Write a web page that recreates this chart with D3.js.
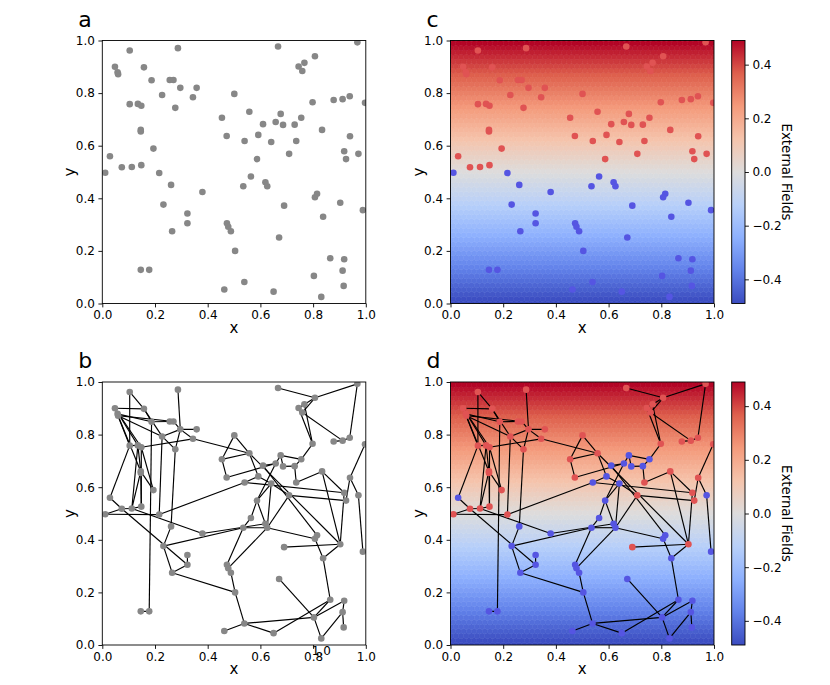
<!DOCTYPE html>
<html><head><meta charset="utf-8">
<script src="https://cdn.jsdelivr.net/npm/d3@7"></script>
<style>body{margin:0;background:#fff} text{font-family:"DejaVu Sans",sans-serif}</style>
</head><body><svg id="fig" width="830" height="685"></svg>
<script>
// ---------------- data ----------------
const nodeX = [0.104,0.287,0.048,0.058,0.060,0.158,0.187,0.256,0.270,0.296,0.358,0.227,0.344,0.501,0.104,0.135,0.148,0.277,0.454,0.472,
0.146,0.146,0.194,0.029,0.074,0.112,0.148,0.011,0.216,0.667,0.968,0.807,0.767,0.745,0.759,0.798,0.878,0.912,0.939,0.997,
0.558,0.677,0.755,0.610,0.658,0.686,0.730,0.834,0.592,0.540,0.641,0.736,0.940,0.918,0.925,0.972,0.709,0.587,0.564,0.261,
0.380,0.232,0.323,0.323,0.265,0.473,0.478,0.488,0.504,0.146,0.178,0.463,0.535,0.619,0.626,0.690,0.815,0.807,0.903,0.989,
0.838,0.671,0.865,0.918,0.912,0.803,0.916,0.831,0.539,0.650];
const nodeY = [0.962,0.971,0.900,0.879,0.872,0.898,0.849,0.850,0.850,0.820,0.820,0.793,0.784,0.797,0.758,0.759,0.752,0.744,0.706,0.637,
0.660,0.654,0.589,0.560,0.518,0.519,0.526,0.497,0.496,0.977,0.993,0.940,0.915,0.901,0.884,0.765,0.774,0.777,0.788,0.763,
0.729,0.721,0.706,0.682,0.690,0.679,0.680,0.660,0.641,0.618,0.614,0.618,0.636,0.579,0.549,0.569,0.569,0.549,0.483,0.451,
0.424,0.376,0.342,0.305,0.275,0.305,0.292,0.275,0.200,0.128,0.128,0.053,0.446,0.461,0.446,0.372,0.417,0.404,0.383,0.355,
0.330,0.251,0.172,0.168,0.125,0.105,0.067,0.025,0.082,0.045];
// edges, 1-based node numbers
const edgeList = [[1,15],[1,6],[2,10],[3,6],[3,15],[4,7],[5,12],[5,21],[6,7],[6,12],[7,8],[8,9],[9,10],[10,11],[10,13],[12,10],[12,18],
[18,10],[12,29],[18,60],[13,17],[7,71],[15,16],[16,21],[17,23],[21,23],[21,27],[15,24],[24,25],[25,26],[26,27],[28,25],[28,29],
[29,50],[13,41],[14,19],[19,20],[19,41],[14,41],[20,45],[3,17],[5,9],[16,26],[17,27],[21,26],[3,16],
[30,32],[31,32],[31,39],[32,34],[32,35],[33,36],[34,36],[35,38],[37,38],[38,39],[36,43],[40,53],[53,55],[53,56],[54,79],[48,79],
[48,54],[48,52],[50,54],[57,55],[41,79],[44,77],[44,45],[42,45],[42,46],[42,43],[46,47],[43,47],[47,52],[49,50],[49,51],[58,51],
[58,45],[57,51],[58,59],[58,74],[51,75],[57,75],[41,49],
[59,73],[73,75],[62,73],[61,74],[26,61],[25,64],[60,62],[62,65],[64,65],[63,64],[65,69],[73,66],[75,67],[66,67],[67,68],[68,69],
[69,89],[89,72],[89,86],[90,83],[89,90],[82,86],[86,84],[86,88],[88,85],[84,85],[85,87],[83,86],[81,83],[78,81],[79,81],[76,79],
[75,78],[70,71],[56,80],[77,78]];
// spin state (+1 red / -1 blue) of each node in panel d
const spinD = [1,1,1,1,1,1,1,1,1,1,1,1,1,1,1,1,1,1,1,1,1,1,1,-1,1,1,1,1,1,1,
1,1,1,1,1,1,1,1,1,1,1,-1,-1,-1,-1,-1,-1,1,-1,-1,-1,1,1,1,1,-1,1,-1,-1,-1,
-1,-1,-1,-1,-1,-1,-1,-1,-1,-1,-1,-1,-1,-1,-1,1,-1,-1,1,-1,-1,-1,-1,-1,-1,-1,-1,-1,-1,-1];
// external field: linear in y
const fieldY = [0, 1];
const fieldValue = [-0.5, 0.5];
const axisTicks = [0, 0.2, 0.4, 0.6, 0.8, 1.0];
const cbarTicks = [-0.4, -0.2, 0, 0.2, 0.4];
const cbarRange = [-0.49, 0.49];
const coolwarmStops = ["#3b4cc0","#6282ea","#8db0fe","#b8d0f9","#dddcdc","#f5c4ac","#f49a7b","#de604d","#b40426"];
const strayLabel = {text: "1.0", x: 0.831};

// ---------------- drawing ----------------
const svg = d3.select("#fig");
const W = 263.5, H = 263;
const panels = [
  {id:"a", x0:102.3, y0:40.5, bg:false, edges:false, color:"gray"},
  {id:"b", x0:102.3, y0:382,  bg:false, edges:true,  color:"gray"},
  {id:"c", x0:450.5, y0:40.5, bg:true,  edges:false, color:"field"},
  {id:"d", x0:450.5, y0:382,  bg:true,  edges:true,  color:"spin"}
];
const nodes = nodeX.map((x,i)=>({x, y:nodeY[i], s:spinD[i], i}));
const field = d3.scaleLinear().domain(fieldY).range(fieldValue);
const cmap = d3.scaleLinear()
  .domain(coolwarmStops.map((c,i)=>cbarRange[0] + i*(cbarRange[1]-cbarRange[0])/(coolwarmStops.length-1)))
  .range(coolwarmStops).interpolate(d3.interpolateRgb).clamp(true);
const RED = "#e05353", BLUE = "#5555e2", GRAY = "#878787";
const fmt = d => (d < 0 ? "\u2212" : "") + Math.abs(d).toFixed(1);

panels.forEach(p => {
  const xs = d3.scaleLinear().domain([0,1]).range([0,W]);
  const ys = d3.scaleLinear().domain([0,1]).range([H,0]);
  const g = svg.append("g").attr("transform", `translate(${p.x0},${p.y0})`);
  const clipId = "clip" + p.id;
  g.append("clipPath").attr("id", clipId).append("rect").attr("width", W).attr("height", H);
  const inner = g.append("g").attr("clip-path", `url(#${clipId})`);

  if (p.bg) {
    const nx = 50, sx = W / nx, sy = sx * Math.sqrt(3);
    const hex = [[.5,-1/6],[.5,1/6],[0,1/3],[-.5,1/6],[-.5,-1/6],[0,-1/3]]
      .map(([a,b]) => [a*sx, b*sy]);
    const cells = [];
    const nRows = Math.ceil(H / (sy/2)) + 2;
    for (let j = -1; j <= nRows; j++) {
      const cy = H - j * sy / 2;
      const off = (j % 2 !== 0) ? sx / 2 : 0;
      for (let k = -1; k <= nx + 1; k++) cells.push({cx: k*sx + off, cy});
    }
    inner.selectAll("path.hex").data(cells).join("path")
      .attr("class","hex")
      .attr("d", c => "M" + hex.map(([a,b]) => [c.cx+a, c.cy+b].join(",")).join("L") + "Z")
      .attr("fill", c => cmap(field(ys.invert(c.cy))))
      .attr("stroke", c => cmap(field(ys.invert(c.cy))))
      .attr("stroke-width", 0.6);
  }

  if (p.edges) {
    inner.selectAll("line.edge").data(edgeList).join("line")
      .attr("x1", e => xs(nodes[e[0]-1].x)).attr("y1", e => ys(nodes[e[0]-1].y))
      .attr("x2", e => xs(nodes[e[1]-1].x)).attr("y2", e => ys(nodes[e[1]-1].y))
      .attr("stroke", "#000").attr("stroke-width", 1.15);
  }

  inner.selectAll("circle").data(nodes).join("circle")
    .attr("cx", d => xs(d.x)).attr("cy", d => ys(d.y)).attr("r", 3.3)
    .attr("fill", d => p.color === "gray" ? GRAY
         : p.color === "field" ? (field(d.y) > 0 ? RED : BLUE)
         : (d.s > 0 ? RED : BLUE));

  // axes
  const ax = g.append("g").attr("transform", `translate(0,${H})`)
    .call(d3.axisBottom(xs).tickValues(axisTicks).tickFormat(fmt).tickSize(3.9).tickPadding(3.5));
  const ay = g.append("g")
    .call(d3.axisLeft(ys).tickValues(axisTicks).tickFormat(fmt).tickSize(3.9).tickPadding(3.5));
  [ax, ay].forEach(a => {
    a.select(".domain").remove();
    a.selectAll("text").attr("font-size", 12).attr("font-family", "DejaVu Sans").attr("fill", "#000");
    a.selectAll("line").attr("stroke", "#000").attr("stroke-width", 0.9);
  });
  g.append("rect").attr("width", W).attr("height", H)
    .attr("fill", "none").attr("stroke", "#000").attr("stroke-width", 0.9);

  g.append("text").attr("x", W/2).attr("y", H + 29).attr("text-anchor", "middle")
    .attr("font-size", 15).text("x");
  g.append("text").attr("transform", `translate(-27,${H/2}) rotate(-90)`)
    .attr("text-anchor", "middle").attr("font-size", 15).text("y");
  g.append("text").attr("x", -24).attr("y", -14).attr("font-size", 22).text(p.id);

  if (p.id === "b") {
    g.append("text").attr("x", xs(strayLabel.x)).attr("y", H + 10).attr("text-anchor", "middle")
      .attr("font-size", 12).text(strayLabel.text);
  }

  // colorbar
  if (p.bg) {
    const cbx = 731.7 - p.x0, cbw = 13.3;
    const gid = "grad" + p.id;
    const grad = g.append("defs").append("linearGradient").attr("id", gid)
      .attr("x1", 0).attr("y1", 1).attr("x2", 0).attr("y2", 0);
    coolwarmStops.forEach((c,i) => grad.append("stop")
      .attr("offset", i/(coolwarmStops.length-1)).attr("stop-color", c));
    const cb = g.append("g").attr("transform", `translate(${cbx},0)`);
    cb.append("rect").attr("width", cbw).attr("height", H).attr("fill", `url(#${gid})`);
    const cs = d3.scaleLinear().domain(cbarRange).range([H, 0]);
    const ca = cb.append("g").attr("transform", `translate(${cbw},0)`)
      .call(d3.axisRight(cs).tickValues(cbarTicks).tickFormat(fmt).tickSize(3.9).tickPadding(3.5));
    ca.select(".domain").remove();
    ca.selectAll("text").attr("font-size", 12).attr("font-family", "DejaVu Sans").attr("fill", "#000");
    ca.selectAll("line").attr("stroke", "#000").attr("stroke-width", 0.9);
    cb.append("rect").attr("width", cbw).attr("height", H)
      .attr("fill", "none").attr("stroke", "#000").attr("stroke-width", 0.9);
    cb.append("text").attr("transform", `translate(${786 - 731.7},${H/2}) rotate(90)`)
      .attr("text-anchor", "middle").attr("dominant-baseline", "central")
      .attr("font-size", 13.3).text("External Fields");
  }
});
</script></body></html>
